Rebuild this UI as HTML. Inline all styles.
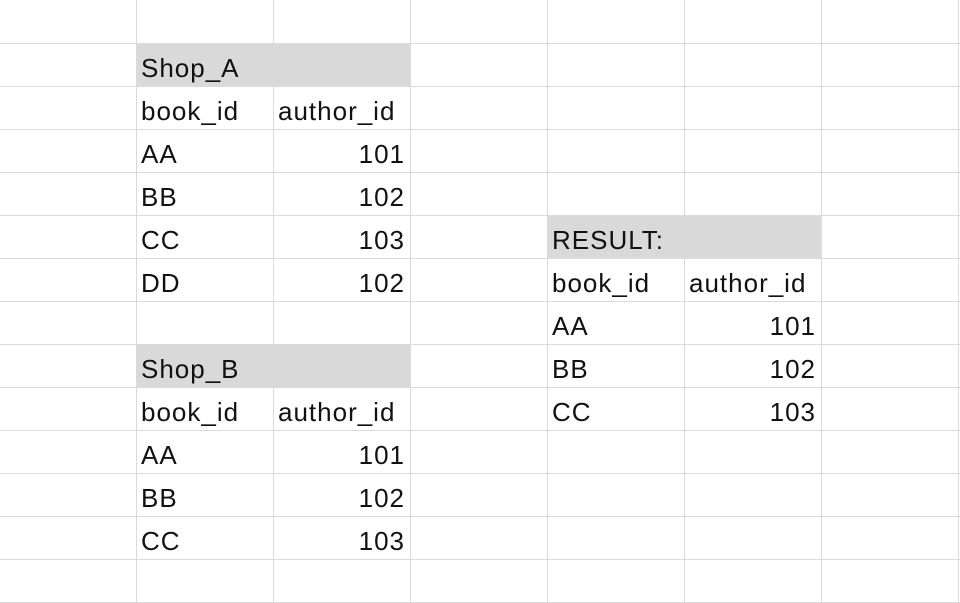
<!DOCTYPE html>
<html><head><style>
body{margin:0;background:#fff;width:960px;height:603px;overflow:hidden;position:relative;font-family:"Liberation Sans",sans-serif;}
.t{position:absolute;font-size:26px;letter-spacing:1px;color:#111;line-height:26px;white-space:nowrap}
.r{text-align:right;width:120px}
.g{position:absolute;background:#d9d9d9}
</style></head><body>
<svg width="960" height="603" style="position:absolute;left:0;top:0">
<g stroke="#dadada" stroke-width="1">
<line x1="136.5" y1="0" x2="136.5" y2="603"/><line x1="273.5" y1="0" x2="273.5" y2="603"/>
<line x1="410.5" y1="0" x2="410.5" y2="603"/><line x1="547.5" y1="0" x2="547.5" y2="603"/>
<line x1="684.5" y1="0" x2="684.5" y2="603"/><line x1="821.5" y1="0" x2="821.5" y2="603"/>
<line x1="958.5" y1="0" x2="958.5" y2="603"/>
<line x1="0" y1="43.5" x2="960" y2="43.5"/><line x1="0" y1="86.5" x2="960" y2="86.5"/>
<line x1="0" y1="129.5" x2="960" y2="129.5"/><line x1="0" y1="172.5" x2="960" y2="172.5"/>
<line x1="0" y1="215.5" x2="960" y2="215.5"/><line x1="0" y1="258.5" x2="960" y2="258.5"/>
<line x1="0" y1="301.5" x2="960" y2="301.5"/><line x1="0" y1="344.5" x2="960" y2="344.5"/>
<line x1="0" y1="387.5" x2="960" y2="387.5"/><line x1="0" y1="430.5" x2="960" y2="430.5"/>
<line x1="0" y1="473.5" x2="960" y2="473.5"/><line x1="0" y1="516.5" x2="960" y2="516.5"/>
<line x1="0" y1="559.5" x2="960" y2="559.5"/><line x1="0" y1="602.5" x2="960" y2="602.5"/>
</g></svg>
<div class="g" style="left:137px;top:44px;width:273px;height:42px"></div>
<div class="g" style="left:137px;top:345px;width:273px;height:42px"></div>
<div class="g" style="left:548px;top:216px;width:273px;height:42px"></div>
<div class="t" style="left:141px;top:55px">Shop_A</div>
<div class="t" style="left:141px;top:98px">book_id</div><div class="t" style="left:278px;top:98px">author_id</div>
<div class="t" style="left:141px;top:141px">AA</div><div class="t r" style="left:285px;top:141px">101</div>
<div class="t" style="left:141px;top:184px">BB</div><div class="t r" style="left:285px;top:184px">102</div>
<div class="t" style="left:141px;top:227px">CC</div><div class="t r" style="left:285px;top:227px">103</div>
<div class="t" style="left:141px;top:270px">DD</div><div class="t r" style="left:285px;top:270px">102</div>
<div class="t" style="left:141px;top:356px">Shop_B</div>
<div class="t" style="left:141px;top:399px">book_id</div><div class="t" style="left:278px;top:399px">author_id</div>
<div class="t" style="left:141px;top:442px">AA</div><div class="t r" style="left:285px;top:442px">101</div>
<div class="t" style="left:141px;top:485px">BB</div><div class="t r" style="left:285px;top:485px">102</div>
<div class="t" style="left:141px;top:528px">CC</div><div class="t r" style="left:285px;top:528px">103</div>
<div class="t" style="left:552px;top:227px">RESULT:</div>
<div class="t" style="left:552px;top:270px">book_id</div><div class="t" style="left:689px;top:270px">author_id</div>
<div class="t" style="left:552px;top:313px">AA</div><div class="t r" style="left:696px;top:313px">101</div>
<div class="t" style="left:552px;top:356px">BB</div><div class="t r" style="left:696px;top:356px">102</div>
<div class="t" style="left:552px;top:399px">CC</div><div class="t r" style="left:696px;top:399px">103</div>
</body></html>
